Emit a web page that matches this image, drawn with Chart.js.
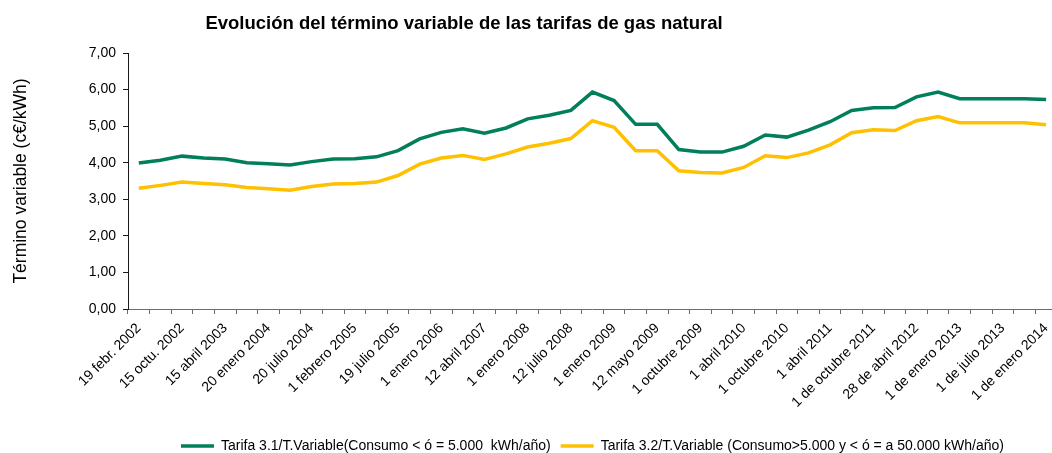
<!DOCTYPE html>
<html lang="es">
<head>
<meta charset="utf-8">
<title>Evolución del término variable de las tarifas de gas natural</title>
<script src="https://cdn.jsdelivr.net/npm/chart.js@4.4.1/dist/chart.umd.min.js"></script>
<style>
    html, body { margin: 0; padding: 0; background: #fff; overflow: hidden; }
    #wrap { position: relative; width: 1064px; height: 463px; }
    #chart-title {
        position: absolute; left: 0; top: 14px; width: 928px;
        text-align: center; font: bold 18.5px "Liberation Sans", Arial, sans-serif;
        line-height: 18.5px; color: #000;
    }
    #tariff-chart { position: absolute; left: 0; top: 0; }
</style>
</head>
<body>
<div id="wrap">
    <canvas id="tariff-chart" width="1064" height="463"></canvas>
    <div id="chart-title">Evolución del término variable de las tarifas de gas natural</div>
</div>
<script>
// --- Data (c€/kWh) ---
// Labels shown on the x axis, one on every other category
const tickLabels = [
    '19 febr. 2002', '15 octu. 2002', '15 abril 2003', '20 enero 2004', '20 julio 2004',
    '1 febrero 2005', '19 julio 2005', '1 enero 2006', '12 abril 2007', '1 enero 2008',
    '12 julio 2008', '1 enero 2009', '12 mayo 2009', '1 octubre 2009', '1 abril 2010',
    '1 octubre 2010', '1 abril 2011', '1 de octubre 2011', '28 de abril 2012',
    '1 de enero 2013', '1 de julio 2013', '1 de enero 2014'
];

// 43 tariff revisions; the unlabelled ones sit between the labelled ones
const categories = [];
for (let i = 0; i < 43; i++) {
    categories.push(i % 2 === 0 ? tickLabels[i / 2] : '');
}

const tarifa31 = [
    3.99, 4.07, 4.18, 4.13, 4.10, 4.00, 3.97, 3.94, 4.03, 4.10,
    4.11, 4.16, 4.33, 4.65, 4.83, 4.93, 4.81, 4.95, 5.20, 5.30,
    5.43, 5.93, 5.70, 5.05, 5.05, 4.36, 4.29, 4.29, 4.45, 4.76,
    4.70, 4.89, 5.12, 5.43, 5.50, 5.51, 5.80, 5.93, 5.75, 5.75,
    5.75, 5.75, 5.73
];

const tarifa32 = [
    3.30, 3.38, 3.47, 3.43, 3.40, 3.32, 3.29, 3.25, 3.35, 3.42,
    3.43, 3.47, 3.65, 3.96, 4.13, 4.20, 4.09, 4.24, 4.43, 4.53,
    4.66, 5.15, 4.97, 4.33, 4.33, 3.78, 3.73, 3.72, 3.87, 4.19,
    4.14, 4.27, 4.49, 4.82, 4.90, 4.88, 5.15, 5.26, 5.09, 5.09,
    5.09, 5.09, 5.04
];

const seriesNames = [
    'Tarifa 3.1/T.Variable(Consumo < ó = 5.000  kWh/año)',
    'Tarifa 3.2/T.Variable (Consumo>5.000 y < ó = a 50.000 kWh/año)'
];

const FONT = '"Liberation Sans", Arial, sans-serif';
const Y_AXIS_COLOR = '#1a1a1a';
const X_AXIS_COLOR = '#6b6b6b';

function renderTariffChart() {
    const ctx = document.getElementById('tariff-chart').getContext('2d');

    new Chart(ctx, {
        type: 'line',
        data: {
            labels: categories,
            datasets: [{
                label: seriesNames[0],
                data: tarifa31,
                borderColor: '#007F5A',
                backgroundColor: '#007F5A',
                borderWidth: 3.5,
                pointRadius: 0,
                tension: 0
            }, {
                label: seriesNames[1],
                data: tarifa32,
                borderColor: '#FFC000',
                backgroundColor: '#FFC000',
                borderWidth: 3.5,
                pointRadius: 0,
                tension: 0
            }]
        },
        options: {
            responsive: false,
            animation: false,
            layout: { padding: { top: 53, right: 2, bottom: 0, left: 0 } },
            plugins: {
                title: { display: false },
                tooltip: { enabled: false },
                legend: {
                    position: 'bottom',
                    fullSize: false,
                    labels: {
                        usePointStyle: true,
                        pointStyle: 'line',
                        pointStyleWidth: 33,
                        padding: 10,
                        color: '#000',
                        font: { family: FONT, size: 14 }
                    }
                }
            },
            scales: {
                x: {
                    offset: true,
                    grid: {
                        offset: true,
                        drawOnChartArea: false,
                        drawTicks: true,
                        tickLength: 5,
                        color: X_AXIS_COLOR
                    },
                    border: { display: true, color: X_AXIS_COLOR, width: 1 },
                    ticks: {
                        autoSkip: false,
                        minRotation: 45,
                        maxRotation: 45,
                        padding: 6,
                        color: '#000',
                        font: { family: FONT, size: 14 }
                    },
                    afterFit: (scale) => { scale.height = 120; }
                },
                y: {
                    min: 0,
                    max: 7,
                    grid: {
                        drawOnChartArea: false,
                        drawTicks: true,
                        tickLength: 5,
                        color: Y_AXIS_COLOR
                    },
                    border: { display: true, color: Y_AXIS_COLOR, width: 1 },
                    ticks: {
                        stepSize: 1,
                        padding: 7,
                        color: '#000',
                        font: { family: FONT, size: 14 },
                        callback: (value) => value.toFixed(2).replace('.', ',')
                    },
                    title: {
                        display: true,
                        text: 'Término variable (c€/kWh)',
                        color: '#000',
                        font: { family: FONT, size: 17.5 },
                        padding: { top: 11, bottom: 0 }
                    },
                    afterFit: (scale) => { scale.width = 128; }
                }
            }
        }
    });
}

document.addEventListener('DOMContentLoaded', renderTariffChart);
</script>
</body>
</html>
